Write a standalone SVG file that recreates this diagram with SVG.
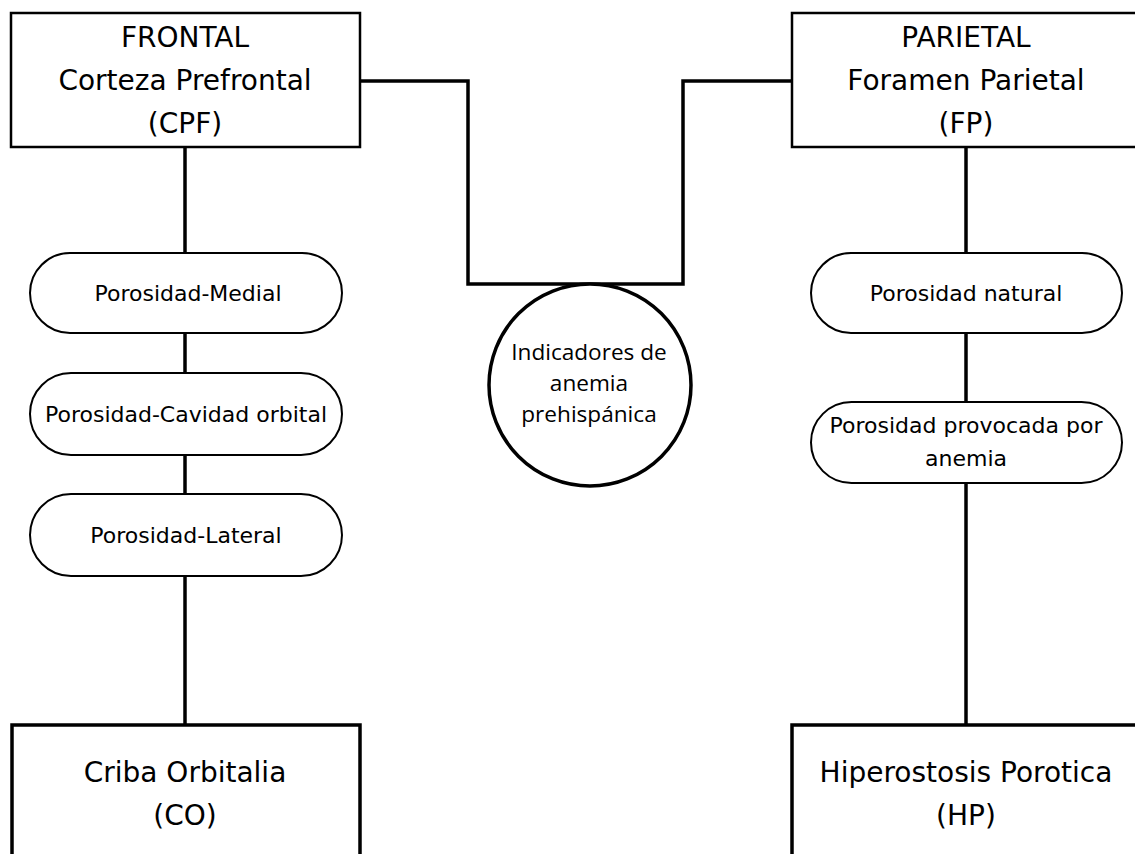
<svg xmlns="http://www.w3.org/2000/svg" width="1135" height="854" viewBox="0 0 1135 854">
<style>
.box{fill:#fff;stroke:#000;stroke-width:2.5}
.boxb{fill:#fff;stroke:#000;stroke-width:3.5}
.pill{fill:#fff;stroke:#000;stroke-width:2}
.circ{fill:#fff;stroke:#000;stroke-width:3.5}
.con{fill:none;stroke:#000;stroke-width:3.5}
.big{font-family:"DejaVu Sans",sans-serif;font-size:28px;fill:#000;text-anchor:middle}
.sm{font-family:"DejaVu Sans",sans-serif;font-size:22px;fill:#000;text-anchor:middle}
.cal{font-family:"Open Sans",sans-serif;font-size:22.6px;fill:#000;text-anchor:middle}
</style>
<rect width="1135" height="854" fill="#fff"/>
<g id="connectors">
<path class="con" d="M360 81 H468 V284 H683 V81 H792"/>
<line class="con" x1="185" y1="147" x2="185" y2="253"/>
<line class="con" x1="185" y1="333" x2="185" y2="373"/>
<line class="con" x1="185" y1="455" x2="185" y2="494"/>
<line class="con" x1="185" y1="576" x2="185" y2="725"/>
<line class="con" x1="966" y1="147" x2="966" y2="253"/>
<line class="con" x1="966" y1="333" x2="966" y2="402"/>
<line class="con" x1="966" y1="483" x2="966" y2="725"/>
</g>
<g id="frontal">
<rect class="box" x="11" y="13" width="349" height="134"/>
<text class="big" x="185" y="47">FRONTAL</text>
<text class="big" x="185" y="90">Corteza Prefrontal</text>
<text class="big" x="185" y="133">(CPF)</text>
</g>
<g id="parietal">
<rect class="box" x="792" y="13" width="349" height="134"/>
<text class="big" x="966" y="47">PARIETAL</text>
<text class="big" x="966" y="90">Foramen Parietal</text>
<text class="big" x="966" y="133">(FP)</text>
</g>
<g id="medial">
<rect class="pill" x="30" y="253" width="312" height="80" rx="40"/>
<text class="sm" x="188" y="301">Porosidad-Medial</text>
</g>
<g id="cavidad">
<rect class="pill" x="30" y="373" width="312" height="82" rx="41"/>
<text class="sm" x="186" y="422">Porosidad-Cavidad orbital</text>
</g>
<g id="lateral">
<rect class="pill" x="30" y="494" width="312" height="82" rx="41"/>
<text class="sm" x="186" y="543">Porosidad-Lateral</text>
</g>
<g id="natural">
<rect class="pill" x="811" y="253" width="311" height="80" rx="40"/>
<text class="sm" x="966" y="301">Porosidad natural</text>
</g>
<g id="provocada">
<rect class="pill" x="811" y="402" width="311" height="81" rx="40.5"/>
<text class="sm" x="966" y="433">Porosidad provocada por</text>
<text class="sm" x="966" y="466">anemia</text>
</g>
<g id="indicadores">
<circle class="circ" cx="590" cy="385" r="101"/>
<text class="cal" x="589" y="360">Indicadores de</text>
<text class="cal" x="589" y="391">anemia</text>
<text class="cal" x="589" y="422">prehispánica</text>
</g>
<g id="criba">
<rect class="boxb" x="12" y="725" width="348" height="160"/>
<text class="big" x="185" y="782">Criba Orbitalia</text>
<text class="big" x="185" y="825">(CO)</text>
</g>
<g id="hiperostosis">
<rect class="boxb" x="792" y="725" width="348" height="160"/>
<text class="big" x="966" y="782">Hiperostosis Porotica</text>
<text class="big" x="966" y="825">(HP)</text>
</g>
</svg>
